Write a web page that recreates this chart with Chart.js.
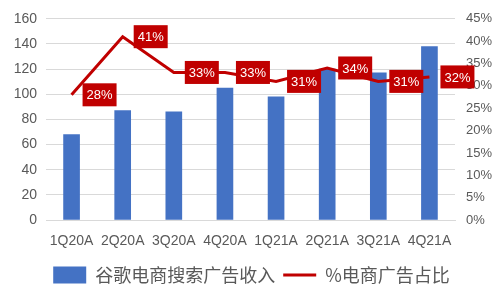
<!DOCTYPE html>
<html>
<head>
<meta charset="utf-8">
<script src="https://cdn.jsdelivr.net/npm/chart.js@4/dist/chart.umd.min.js"></script>
<style>
  body { margin: 0; background: #fff; }
  #wrap { width: 502px; height: 304px; }
</style>
</head>
<body>
<div id="wrap"><canvas id="myChart"></canvas></div>
<script>
var quarters = ['1Q20A', '2Q20A', '3Q20A', '4Q20A', '1Q21A', '2Q21A', '3Q21A', '4Q21A'];
var adRevenue = [68, 87, 86, 105, 98, 120, 117, 138];
var adShare = [28, 41, 33, 33, 31, 34, 31, 32];
var shareLabels = ['28%', '41%', '33%', '33%', '31%', '34%', '31%', '32%'];

var tickFont = { family: 'Liberation Sans, Arial, sans-serif', size: 14 };

// red boxes with the percentages, right of each point
var boxLabels = {
    id: 'boxLabels',
    afterDatasetsDraw: function(chart) {
        var ctx = chart.ctx;
        var meta = chart.getDatasetMeta(1);
        ctx.save();
        ctx.font = '13px "Liberation Sans", Arial, sans-serif';
        ctx.textAlign = 'center';
        ctx.textBaseline = 'middle';
        meta.data.forEach(function(pt, i) {
            var w = 34, h = 23;
            var x = pt.x + 11, y = pt.y - h / 2;
            ctx.fillStyle = '#C00000';
            ctx.fillRect(x, y, w, h);
            ctx.fillStyle = '#ffffff';
            ctx.fillText(shareLabels[i], x + w / 2, pt.y + 1);
        });
        ctx.restore();
    }
};

var ctx = document.getElementById('myChart').getContext('2d');
var myChart = new Chart(ctx, {
    type: 'bar',
    data: {
        labels: quarters,
        datasets: [
            {
                type: 'bar',
                label: '谷歌电商搜索广告收入',
                data: adRevenue,
                backgroundColor: '#4472C4',
                barThickness: 16,
                yAxisID: 'y',
                order: 2
            },
            {
                type: 'line',
                label: '%电商广告占比',
                data: adShare,
                borderColor: '#C00000',
                backgroundColor: '#C00000',
                borderWidth: 3,
                pointRadius: 0,
                tension: 0,
                yAxisID: 'y1',
                order: 1
            }
        ]
    },
    options: {
        responsive: true,
        maintainAspectRatio: false,
        animation: false,
        layout: { padding: { left: 1, right: 0, top: 18, bottom: 10 } },
        plugins: {
            tooltip: { enabled: false },
            legend: {
                position: 'bottom',
                labels: {
                    usePointStyle: true,
                    pointStyleWidth: 33,
                    boxHeight: 17,
                    padding: 8,
                    color: '#595959',
                    font: { family: '"Noto Sans CJK SC", sans-serif', size: 18 },
                    generateLabels: function(chart) {
                        return chart.data.datasets.map(function(ds, i) {
                            return {
                                text: ds.label,
                                fillStyle: ds.backgroundColor,
                                strokeStyle: i == 0 ? ds.backgroundColor : ds.borderColor,
                                lineWidth: i == 0 ? 0 : 3,
                                pointStyle: i == 0 ? 'rect' : 'line',
                                fontColor: '#595959',
                                datasetIndex: i
                            };
                        });
                    }
                }
            }
        },
        scales: {
            x: {
                grid: { display: false, drawTicks: false },
                border: { color: '#D9D9D9' },
                ticks: { color: '#595959', font: tickFont, padding: 13, maxRotation: 0 },
                afterFit: function(scale) { scale.height = 38; }
            },
            y: {
                position: 'left',
                min: 0,
                max: 160,
                grid: { color: '#D9D9D9', drawTicks: false },
                border: { display: false },
                ticks: { stepSize: 20, color: '#595959', font: tickFont, padding: 9 },
                afterFit: function(scale) { scale.width = 45; }
            },
            y1: {
                position: 'right',
                min: 0,
                max: 45,
                grid: { display: false, drawTicks: false },
                border: { display: false },
                ticks: {
                    stepSize: 5,
                    color: '#595959',
                    font: { family: 'Liberation Sans, Arial, sans-serif', size: 13 },
                    padding: 11,
                    callback: function(v) { return v + '%'; }
                },
                afterFit: function(scale) { scale.width = 47; }
            }
        }
    },
    plugins: [boxLabels]
});
</script>
</body>
</html>
